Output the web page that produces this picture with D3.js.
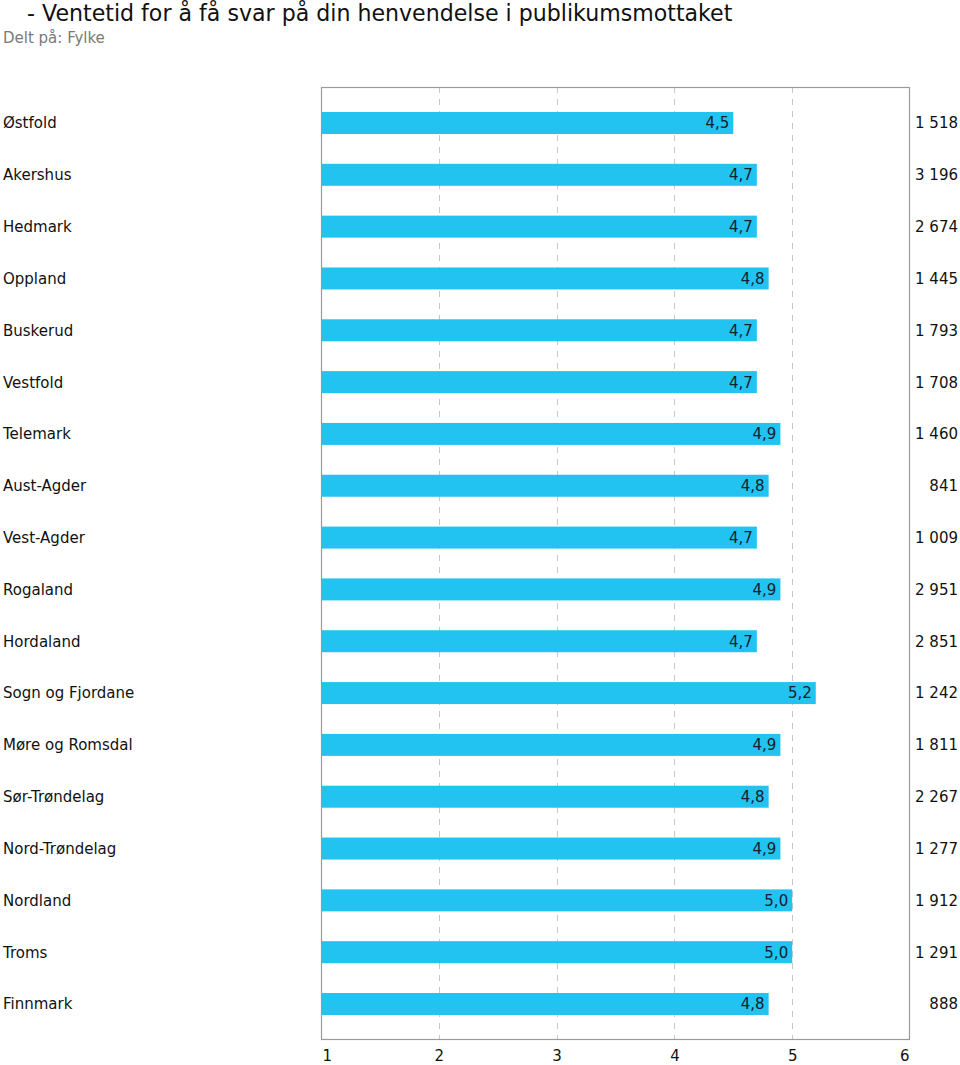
<!DOCTYPE html>
<html>
<head>
<meta charset="utf-8">
<script src="https://cdn.jsdelivr.net/npm/d3@7"></script>
<style>
  html, body { margin: 0; padding: 0; background: #fff; }
  svg { display: block; font-family: Verdana, "DejaVu Sans", sans-serif; }
</style>
</head>
<body>
<svg id="chart" width="960" height="1065"></svg>
<script>
const titleText = "- Ventetid for å få svar på din henvendelse i publikumsmottaket";
const subtitleText = "Delt på: Fylke";
const categories = ["Østfold","Akershus","Hedmark","Oppland","Buskerud","Vestfold","Telemark","Aust-Agder","Vest-Agder","Rogaland","Hordaland","Sogn og Fjordane","Møre og Romsdal","Sør-Trøndelag","Nord-Trøndelag","Nordland","Troms","Finnmark"];
const values = [4.5,4.7,4.7,4.8,4.7,4.7,4.9,4.8,4.7,4.9,4.7,5.2,4.9,4.8,4.9,5.0,5.0,4.8];
const counts = [1518,3196,2674,1445,1793,1708,1460,841,1009,2951,2851,1242,1811,2267,1277,1912,1291,888];
const tickValues = [1,2,3,4,5,6];

(function () {
const locale = d3.formatLocale({decimal: ",", thousands: " ", grouping: [3], currency: ["", ""]});
const fmtVal = locale.format(".1f");
const fmtCount = locale.format(",d");

const svg = d3.select("#chart");
const plotLeft = 321, plotRight = 910, plotTop = 87, plotBottom = 1040;

const x = d3.scaleLinear().domain([1, 6]).range([plotLeft, plotRight]);
const y = d3.scaleBand().domain(categories).range([plotTop, plotBottom])
  .paddingInner(0.5755).paddingOuter(0.482);

// title
svg.append("text").attr("x", 27).attr("y", 21)
  .attr("font-size", 22.1).attr("fill", "#111").text(titleText);
svg.append("text").attr("x", 3).attr("y", 43)
  .attr("font-size", 15).attr("fill", "#7a7a7a").text(subtitleText);

// gridlines
svg.append("g").selectAll("line").data(tickValues.filter(t => t > 1 && t < 6)).join("line")
  .attr("x1", d => Math.round(x(d)) + 0.5).attr("x2", d => Math.round(x(d)) + 0.5)
  .attr("y1", plotTop).attr("y2", plotBottom)
  .attr("stroke", "#c8c8c8").attr("stroke-width", 1).attr("stroke-dasharray", "6,6");

// bars
svg.append("g").selectAll("rect").data(categories).join("rect")
  .attr("x", x(1)).attr("y", d => y(d))
  .attr("width", (d, i) => x(values[i]) - x(1))
  .attr("height", y.bandwidth())
  .attr("fill", "#22c3f1");

// frame
svg.append("rect").attr("x", plotLeft + 0.5).attr("y", plotTop + 0.5)
  .attr("width", plotRight - plotLeft - 1).attr("height", plotBottom - plotTop - 1)
  .attr("fill", "none").attr("stroke", "#9a9a9a").attr("stroke-width", 1.2);

// value labels
svg.append("g").selectAll("text").data(categories).join("text")
  .attr("x", (d, i) => x(values[i]) - 4)
  .attr("y", d => y(d) + y.bandwidth() / 2)
  .attr("dy", "0.36em").attr("text-anchor", "end")
  .attr("font-size", 15).attr("fill", "#14202c")
  .text((d, i) => fmtVal(values[i]));

// category labels
svg.append("g").selectAll("text").data(categories).join("text")
  .attr("x", 3).attr("y", d => y(d) + y.bandwidth() / 2)
  .attr("dy", "0.36em").attr("font-size", 15).attr("fill", "#111")
  .text(d => d);

// count labels
svg.append("g").selectAll("text").data(categories).join("text")
  .attr("x", 958).attr("y", d => y(d) + y.bandwidth() / 2)
  .attr("dy", "0.36em").attr("text-anchor", "end")
  .attr("font-size", 15).attr("fill", "#111")
  .text((d, i) => fmtCount(counts[i]));

// x axis labels
const xAxis = d3.axisBottom(x).tickValues(tickValues).tickSize(0).tickPadding(0)
  .tickFormat(d3.format("d"));
const gx = svg.append("g").attr("transform", `translate(0, ${plotBottom})`).call(xAxis);
gx.select(".domain").remove();
gx.selectAll("text")
  .attr("y", 21).attr("dy", 0)
  .attr("font-size", 15).attr("font-family", 'Verdana, "DejaVu Sans", sans-serif').attr("fill", "#111")
  .attr("text-anchor", d => d === 1 ? "start" : d === 6 ? "end" : "middle")
  .attr("dx", d => d === 1 ? 1 : d === 6 ? -1 : 0);
})();
</script>
</body>
</html>
